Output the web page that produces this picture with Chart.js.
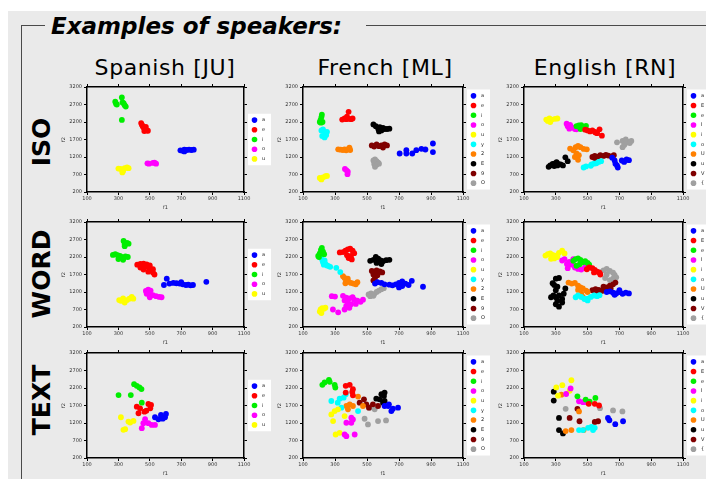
<!DOCTYPE html>
<html>
<head>
<meta charset="utf-8">
<script src="https://cdn.jsdelivr.net/npm/chart.js@4.4.1/dist/chart.umd.min.js"></script>
<style>
  html, body { margin: 0; padding: 0; background: #fff; }
  body { width: 706px; height: 479px; position: relative; overflow: hidden; font-family: "DejaVu Sans", Verdana, sans-serif; }
  #panel { position: absolute; left: 8px; top: 11px; right: 0; bottom: 0; background: #eaeaea; }
  .rule { position: absolute; background: #4a4a4a; }
  .hd { position: absolute; white-space: nowrap; color: #000; line-height: 1; }
  #title { left: 51px; top: 15px; font-size: 23px; font-weight: bold; font-style: italic; }
  .col { top: 57px; font-size: 22px; letter-spacing: 0.6px; transform: translateX(-50%); }
  .row { font-size: 25px; font-weight: bold; transform: translate(-50%, -50%) rotate(-90deg); }
  canvas { position: absolute; }
</style>
</head>
<body>
<div id="panel"></div>
<div class="rule" style="left:21px;top:25px;width:1px;height:454px"></div>
<div class="rule" style="left:21px;top:25px;width:24px;height:1px"></div>
<div class="rule" style="left:366px;top:25px;width:340px;height:1px"></div>
<div class="hd" id="title">Examples of speakers:</div>
<div class="hd col" style="left:165px">Spanish [JU]</div>
<div class="hd col" style="left:385px">French [ML]</div>
<div class="hd col" style="left:605px">English [RN]</div>
<div class="hd row" style="left:41px;top:142px">ISO</div>
<div class="hd row" style="left:41px;top:274px">WORD</div>
<div class="hd row" style="left:41px;top:400px">TEXT</div>

<script>
// axis ticks (Hz)
const f1Ticks = [100, 300, 500, 700, 900, 1100];
const f2Ticks = [200, 700, 1200, 1700, 2200, 2700, 3200];

// vowel symbols per language
const esLabels = ['a', 'e', 'i', 'o', 'u'];
const frLabels = ['a', 'e', 'i', 'o', 'u', 'y', '2', 'E', '9', 'O'];
const enLabels = ['a', 'E', 'e', 'I', 'i', 'o', 'U', 'u', 'V', '{'];

const esColors = ['#0000ff', '#ff0000', '#00ee00', '#ff00ff', '#ffff00'];
const tenColors = ['#0000ff', '#ff0000', '#00ee00', '#ff00ff', '#ffff00',
                   '#00ffff', '#ff8000', '#000000', '#800000', '#a0a0a0'];

// [F1, F2] measurements, one list per vowel in label order
const esIso = [
  [[695,1390],[710,1380],[720,1410],[735,1400],[750,1410],[765,1400],[780,1410],[720,1360]],
  [[445,2170],[450,2120],[455,2080],[460,2040],[470,2000],[480,1960],[465,1940],[475,2060],[488,1950]],
  [[280,2780],[285,2720],[290,2700],[322,2900],[326,2760],[333,2740],[340,2680],[347,2640],[322,2260]],
  [[485,1020],[495,1010],[520,1030],[530,1040],[540,1010]],
  [[300,870],[315,860],[330,800],[340,880],[355,900],[365,880],[325,760]]
];
const esWord = [
  [[590,1400],[608,1580],[625,1440],[650,1460],[670,1450],[690,1440],[700,1480],[710,1420],[730,1400],[745,1410],[760,1390],[775,1400],[860,1490]],
  [[420,1980],[440,2000],[460,2010],[480,1990],[500,1960],[440,1900],[470,1920],[500,1880],[520,1850],[460,1840],[490,1780],[520,1760],[530,1700],[500,1820]],
  [[265,2260],[280,2280],[295,2250],[310,2230],[320,2200],[335,2180],[345,2220],[360,2200],[300,2140],[330,2120],[333,2660],[340,2560],[355,2600],[365,2580],[340,2510]],
  [[475,1230],[490,1270],[505,1240],[480,1150],[500,1100],[520,1110],[540,1080],[560,1060],[575,1050],[500,1050]],
  [[305,970],[315,950],[325,960],[340,900],[355,970],[370,1010],[385,1060],[395,1010],[330,1020]]
];
const esText = [
  [[533,1364],[555,1307],[571,1430],[597,1364],[603,1459],[582,1325]],
  [[417,1667],[438,1620],[466,1525],[491,1743],[508,1714],[503,1620],[478,1553],[428,1478]],
  [[400,2310],[417,2263],[434,2216],[447,2168],[301,1998],[379,1998],[449,1780]],
  [[470,1307],[459,1194],[449,1052],[491,1194],[512,1146],[533,1146]],
  [[316,1364],[364,1241],[396,1260],[375,1213],[343,1024],[332,1005]]
];

const frIso = [
  [[704,1300],[746,1396],[746,1300],[783,1300],[808,1396],[840,1434],[865,1415],[912,1586],[912,1340]],
  [[345,2270],[360,2300],[370,2280],[385,2290],[400,2280],[410,2300],[375,2350],[385,2490]],
  [[205,2200],[210,2260],[215,2340],[218,2410],[222,2200],[212,2180]],
  [[362,860],[372,820],[380,780],[378,710]],
  [[205,600],[215,580],[225,620],[240,650],[250,660],[215,560]],
  [[215,1960],[225,1990],[240,1900],[250,1920],[220,1800],[235,1760],[245,1830]],
  [[320,1420],[335,1410],[350,1400],[370,1390],[385,1430],[395,1400],[390,1470],[360,1420]],
  [[540,2130],[555,2080],[570,2010],[580,2050],[590,1960],[600,2030],[610,2000],[625,2000],[640,2010],[575,1930]],
  [[530,1530],[545,1500],[560,1560],[575,1510],[590,1530],[610,1560],[600,1470],[625,1530]],
  [[540,1100],[550,1130],[560,1080],[570,1040],[545,1000],[560,980],[575,1010],[550,920]]
];
const frWord = [
  [[550,1440],[565,1480],[590,1460],[610,1420],[640,1410],[660,1390],[680,1420],[700,1460],[720,1500],[740,1440],[760,1400],[780,1520],[720,1370],[700,1330],[850,1350]],
  [[330,2330],[350,2340],[365,2380],[380,2420],[395,2440],[410,2380],[420,2310],[400,2230],[385,2170],[405,2130],[375,2250]],
  [[195,2230],[205,2300],[212,2400],[218,2460],[225,2350],[232,2280],[200,2200]],
  [[280,1080],[300,1070],[350,1090],[370,1040],[390,1020],[410,1050],[420,980],[440,950],[360,960],[380,900],[400,850],[430,860],[460,920],[475,980],[370,800],[390,750],[287,700],[320,620],[360,700]],
  [[205,640],[210,700],[220,740],[230,720],[240,750],[215,600]],
  [[210,2190],[220,2120],[225,2050],[235,2100],[240,2000],[250,1960],[260,1940],[270,1920],[230,1980],[308,1890],[333,1770]],
  [[350,1650],[360,1600],[370,1520],[385,1490],[400,1460],[415,1440],[430,1420],[440,1480],[380,1580],[365,1450]],
  [[520,2090],[540,2120],[555,2200],[570,2150],[585,2100],[600,2080],[620,2110],[640,2120],[560,2030],[590,2000],[575,2060]],
  [[530,1800],[545,1780],[560,1820],[580,1790],[595,1760],[540,1700],[565,1680],[550,1600],[540,1530]],
  [[510,1130],[525,1160],[545,1140],[560,1200],[575,1240],[590,1280],[605,1310],[540,1090],[520,1080]]
];
const frText = [
  [[610,1686],[637,1734],[662,1609],[694,1638],[652,1542],[633,1686]],
  [[367,2261],[392,2290],[412,2165],[408,2088],[412,1992],[367,2069]],
  [[221,2290],[235,2357],[262,2433],[267,2376],[298,2290],[302,2213]],
  [[371,1207],[402,1350],[402,1207],[412,1302],[371,823],[360,871],[423,871]],
  [[277,1446],[298,1542],[319,1590],[288,1255],[304,871],[329,919],[360,1398]],
  [[277,1829],[329,1896],[354,1925],[367,2021],[340,1638],[444,1542],[317,1782]],
  [[371,1686],[392,1734],[412,1686],[444,1954],[475,1686],[381,1590]],
  [[558,1896],[590,2021],[610,2069],[610,1829],[600,1782],[579,1877],[606,1973]],
  [[454,1782],[481,1877],[496,1734],[512,1638],[537,1734],[569,1686]],
  [[517,1638],[548,1590],[485,1322],[506,1159],[569,1255],[619,1274]]
];

const enIso = [
  [[655,1180],[670,1100],[675,1010],[685,960],[690,900],[715,1100],[730,1060],[745,1130],[760,1110]],
  [[485,1980],[500,1960],[515,1930],[530,1960],[545,1920],[560,1880],[575,1990],[590,1810],[550,1900]],
  [[430,2080],[445,2100],[460,2110],[470,2060],[480,2000],[455,2000],[490,2090]],
  [[368,2150],[375,2080],[385,2010],[395,2050],[410,2040],[420,2000],[430,1990],[390,2120]],
  [[240,2270],[250,2230],[260,2300],[275,2270],[295,2290],[310,2300],[265,2200]],
  [[475,900],[490,930],[525,990],[540,1010],[555,1020],[570,1060],[585,1080],[520,950]],
  [[390,1440],[410,1390],[425,1480],[440,1520],[455,1480],[475,1430],[495,1420],[430,1300],[445,1250],[420,1200],[440,1120]],
  [[255,920],[265,960],[280,1000],[295,1020],[305,1050],[315,1000],[330,990],[345,960],[310,960],[290,940],[360,1190],[375,1080]],
  [[530,1200],[545,1230],[565,1210],[580,1250],[600,1230],[615,1260],[630,1240],[650,1220],[665,1250],[545,1170]],
  [[685,1620],[720,1660],[735,1580],[740,1700],[750,1640],[765,1600],[775,1660],[720,1480],[730,1540]]
];
const enWord = [
  [[620,1200],[640,1220],[660,1180],[680,1160],[700,1200],[720,1150],[740,1180],[760,1160],[670,1120],[700,1250]],
  [[495,1850],[510,1900],[530,1880],[545,1830],[560,1780],[575,1750],[580,1700],[540,1760]],
  [[410,2090],[425,2140],[440,2160],[455,2120],[470,2050],[485,2080],[500,2030],[510,1980],[450,1990],[430,1950]],
  [[340,2100],[355,2140],[370,2000],[385,2060],[400,1980],[420,1900],[440,1860],[460,1840],[480,1880],[490,1950],[410,2140],[375,1880]],
  [[235,2240],[250,2280],[265,2300],[280,2260],[300,2240],[320,2320],[340,2380],[355,2300],[270,2150],[290,2160],[310,2200]],
  [[425,1050],[440,1100],[460,1060],[480,1000],[500,1010],[520,1060],[540,1100],[560,1080],[575,1110],[500,960]],
  [[380,1470],[400,1440],[420,1460],[440,1380],[455,1330],[470,1300],[490,1240],[500,1200],[460,1150],[470,1060],[440,1260]],
  [[280,1450],[300,1580],[320,1600],[290,1400],[310,1350],[300,1250],[285,1100],[300,1050],[320,1100],[340,1000],[310,950],[300,850],[320,780],[340,900],[360,1300],[350,1150],[270,1050]],
  [[530,1250],[550,1280],[570,1260],[590,1230],[610,1270],[620,1330],[640,1380],[660,1420],[675,1470],[600,1350],[645,1300],[560,1200]],
  [[580,1770],[600,1820],[620,1860],[640,1800],[660,1750],[670,1690],[680,1620],[610,1600],[640,1540],[660,1580],[620,1700]]
];
const enText = [
  [[628,1344],[674,1166],[723,1250],[637,1278]],
  [[507,1747],[545,1747],[572,1700]],
  [[436,1962],[488,1869],[513,1812],[549,1916]],
  [[365,2028],[393,2187],[446,1822],[471,1794],[492,1794]],
  [[303,2216],[314,1981],[341,2281],[387,2122],[398,2422]],
  [[446,997],[471,997],[503,1062],[534,997],[545,1062],[524,1091]],
  [[335,2009],[446,1531],[362,969],[398,997],[475,997]],
  [[287,2094],[287,1841],[320,1344],[320,997],[345,903]],
  [[436,1606],[387,1344],[449,1250],[545,1231],[566,1250]],
  [[362,1606],[578,1625],[660,1559],[719,1531]]
];

// plot box per panel: left/right per column, top/bottom per row (page pixels)
const colX = [[87, 244], [303, 463], [524, 683]];
const rowY = [[87, 192], [222, 327], [353, 458]];

const panels = [
  [esIso, esLabels, esColors, 0, 0], [frIso, frLabels, tenColors, 1, 0], [enIso, enLabels, tenColors, 2, 0],
  [esWord, esLabels, esColors, 0, 1], [frWord, frLabels, tenColors, 1, 1], [enWord, enLabels, tenColors, 2, 1],
  [esText, esLabels, esColors, 0, 2], [frText, frLabels, tenColors, 1, 2], [enText, enLabels, tenColors, 2, 2]
];

const Y_W = 30, X_H = 22, EDGE = 3, PAD_T = 3, KEY_W = 32;
const tinyFont = { family: '"DejaVu Sans", sans-serif', size: 5 };
const plain = v => String(v);

// white key box with one dot per vowel, drawn right of the plot
const vowelKey = {
  id: 'vowelKey',
  afterDraw(chart) {
    const { ctx, chartArea } = chart;
    const sets = chart.data.datasets;
    const rowH = 9.7;
    const h = sets.length * rowH + 3;
    const x0 = chartArea.right + 4;
    const y0 = (chartArea.top + chartArea.bottom) / 2 - h / 2;
    ctx.save();
    ctx.fillStyle = '#ffffff';
    ctx.fillRect(x0, y0, 23, h);
    ctx.font = '5px "DejaVu Sans", sans-serif';
    ctx.textBaseline = 'middle';
    sets.forEach((ds, i) => {
      const cy = y0 + 1.5 + rowH * (i + 0.5);
      ctx.fillStyle = ds.backgroundColor;
      ctx.beginPath();
      ctx.arc(x0 + 6.5, cy, 2.8, 0, Math.PI * 2);
      ctx.fill();
      ctx.fillStyle = '#222';
      ctx.fillText(ds.label, x0 + 14, cy);
    });
    ctx.restore();
  }
};

// unlabeled mirror axis: only the frame edge and its tick marks
function edgeAxis(pos, min, max, ticks, size) {
  const horiz = pos === 'top' || pos === 'bottom';
  return {
    type: 'linear', position: pos, min: min, max: max,
    afterBuildTicks: s => { s.ticks = ticks.map(v => ({ value: v })); },
    ticks: { display: false },
    grid: { drawOnChartArea: false, tickLength: 3, color: '#000', lineWidth: 1 },
    border: { color: '#000', width: 1.5 },
    afterFit: s => { if (horiz) s.height = size; else s.width = size; }
  };
}

panels.forEach(([sets, labels, colors, c, r]) => {
  const [L, R] = colX[c];
  const [T, B] = rowY[r];
  const cv = document.createElement('canvas');
  const w = Y_W + (R - L) + EDGE + KEY_W;
  const h = PAD_T + EDGE + (B - T) + X_H;
  cv.width = w; cv.height = h;
  cv.style.left = (L - Y_W) + 'px';
  cv.style.top = (T - EDGE - PAD_T) + 'px';
  cv.style.width = w + 'px'; cv.style.height = h + 'px';
  document.body.appendChild(cv);

  new Chart(cv, {
    type: 'scatter',
    data: {
      datasets: sets.map((pts, i) => ({
        label: labels[i],
        data: pts.map(p => ({ x: p[0], y: p[1] })),
        backgroundColor: colors[i],
        borderWidth: 0,
        pointRadius: 2.9,
        pointHoverRadius: 2.9
      }))
    },
    options: {
      responsive: false,
      animation: false,
      devicePixelRatio: 1,
      layout: { padding: { left: 0, top: PAD_T, right: KEY_W, bottom: 0 } },
      plugins: { legend: { display: false }, tooltip: { enabled: false } },
      scales: {
        x: {
          type: 'linear', position: 'bottom', min: 100, max: 1100,
          afterBuildTicks: s => { s.ticks = f1Ticks.map(v => ({ value: v })); },
          ticks: { font: tinyFont, color: '#333', padding: 1, maxRotation: 0, autoSkip: false, callback: plain },
          grid: { drawOnChartArea: false, tickLength: 3, color: '#000' },
          border: { color: '#000', width: 1.5 },
          title: { display: true, text: 'f1', font: tinyFont, color: '#333', padding: { top: 1, bottom: 3 } },
          afterFit: s => { s.height = X_H; }
        },
        y: {
          type: 'linear', position: 'left', min: 200, max: 3200,
          afterBuildTicks: s => { s.ticks = f2Ticks.map(v => ({ value: v })); },
          ticks: { font: tinyFont, color: '#333', padding: 2, autoSkip: false, callback: plain },
          grid: { drawOnChartArea: false, tickLength: 3, color: '#000' },
          border: { color: '#000', width: 1.5 },
          title: { display: true, text: 'f2', font: tinyFont, color: '#333', padding: { top: 4, bottom: 1 } },
          afterFit: s => { s.width = Y_W; }
        },
        xTop: edgeAxis('top', 100, 1100, f1Ticks, EDGE),
        yRight: edgeAxis('right', 200, 3200, f2Ticks, EDGE)
      }
    },
    plugins: [vowelKey]
  });
});
</script>
</body>
</html>
